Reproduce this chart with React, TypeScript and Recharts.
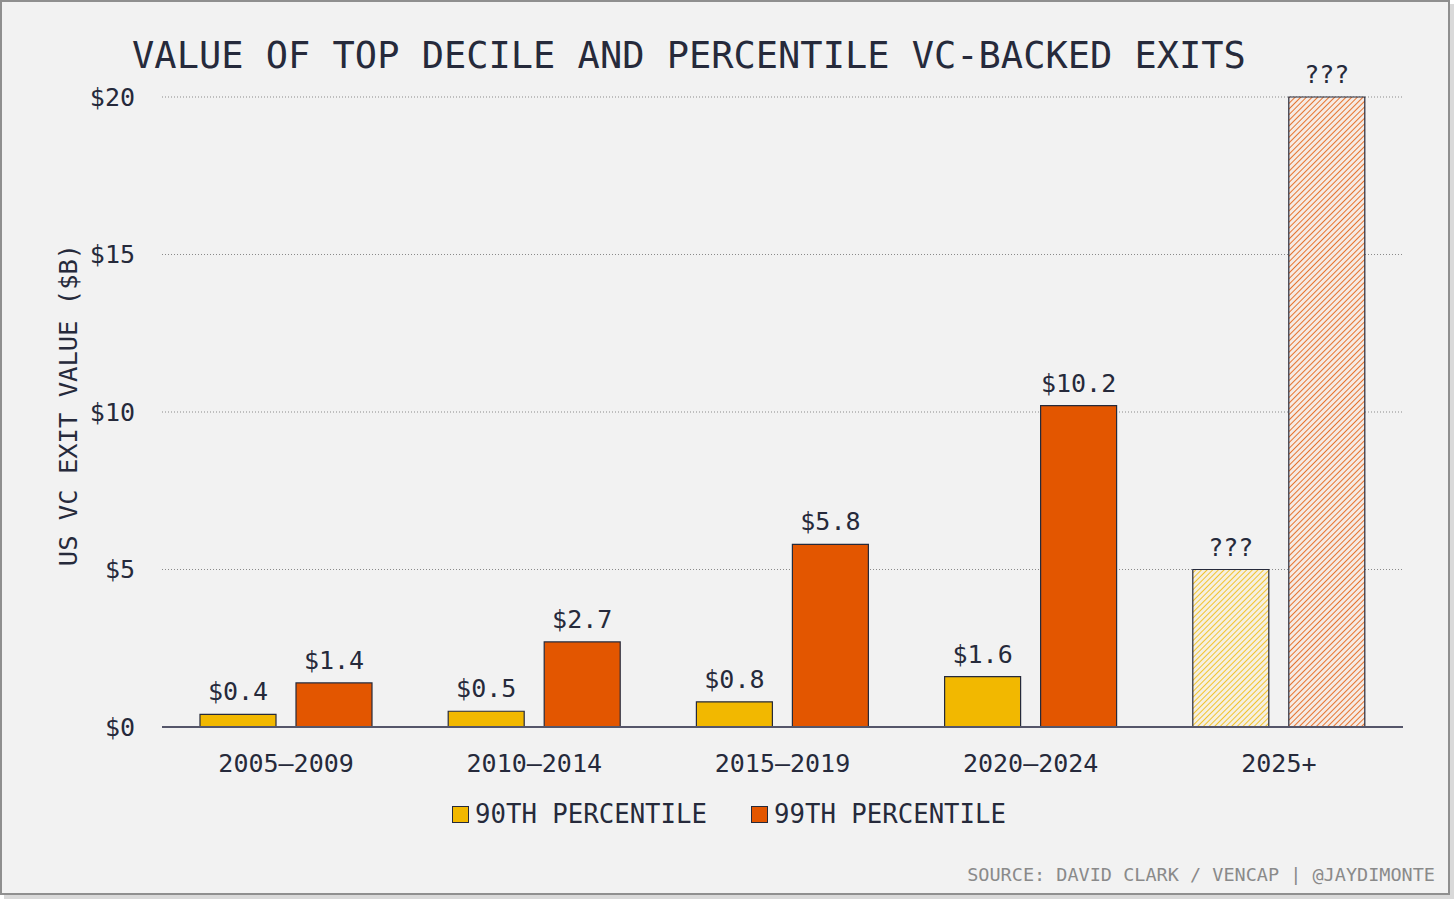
import { BarChart, Bar, XAxis, YAxis, CartesianGrid, LabelList, Cell } from 'recharts';

const categories = ['2005–2009', '2010–2014', '2015–2019', '2020–2024', '2025+'];
const p90 = [0.4, 0.5, 0.8, 1.6, 5];
const p99 = [1.4, 2.7, 5.8, 10.2, 20];
const projected = [false, false, false, false, true];
const yTicks = [0, 5, 10, 15, 20];

const FONT = "'DejaVu Sans Mono', 'Liberation Mono', monospace";
const INK = '#262a3b';
const YELLOW = '#f2b800';
const ORANGE = '#e35600';

const data = categories.map((c, i) => ({ period: c, p90: p90[i], p99: p99[i] }));

const renderLabel = (props: any) => {
    const { x, y, width, value, index } = props;
    const text = projected[index] ? '???' : `$${value}`;
    return (
        <text x={x + width / 2} y={y - 14} textAnchor="middle" fontSize={25} fontFamily={FONT} fill={INK}>
            {text}
        </text>
    );
};

function Swatch({ color, label }: { color: string; label: string }) {
    return (
        <div style={{ display: 'flex', alignItems: 'center', marginRight: 44 }}>
            <div style={{ width: 15, height: 15, background: color, border: `1px solid ${INK}`, marginRight: 6 }} />
            <span>{label}</span>
        </div>
    );
}

export default function App() {
    return (
        <div style={{ position: 'absolute', left: 0, top: 0, width: 1456, height: 904, fontFamily: FONT, color: INK }}>
            <div
                style={{
                    position: 'absolute', left: 0, top: 0, width: 1450, height: 895, boxSizing: 'border-box',
                    border: '2px solid #8f8f8f', background: '#f2f2f2', boxShadow: '4px 4px 0 #d9d9d9',
                }}
            />
            <div style={{ position: 'absolute', left: 0, width: 1378, top: 33, textAlign: 'center', fontSize: 37, lineHeight: '46px' }}>
                VALUE OF TOP DECILE AND PERCENTILE VC-BACKED EXITS
            </div>
            <div
                style={{
                    position: 'absolute', left: 68, top: 405, fontSize: 25.5, whiteSpace: 'nowrap',
                    transform: 'translate(-50%, -50%) rotate(-90deg)',
                }}
            >
                US VC EXIT VALUE ($B)
            </div>
            <div style={{ position: 'absolute', top: 0, left: 0 }}>
                <BarChart width={1456} height={904} data={data} margin={{ top: 97, right: 53, bottom: 127, left: 62 }} barGap={20}>
                    <defs>
                        <pattern id="hatchYellow" patternUnits="userSpaceOnUse" width={4} height={4} patternTransform="rotate(45)">
                            <rect width={4} height={4} fill="#f5f0e2" />
                            <line x1={0} y1={0} x2={0} y2={4} stroke={YELLOW} strokeWidth={1.6} />
                        </pattern>
                        <pattern id="hatchOrange" patternUnits="userSpaceOnUse" width={4} height={4} patternTransform="rotate(45)">
                            <rect width={4} height={4} fill="#f5ebe5" />
                            <line x1={0} y1={0} x2={0} y2={4} stroke={ORANGE} strokeWidth={1.6} />
                        </pattern>
                    </defs>
                    <CartesianGrid vertical={false} stroke="#8a8a8a" strokeDasharray="1 2" />
                    <XAxis
                        dataKey="period"
                        height={50}
                        tickLine={false}
                        tickSize={0}
                        tickMargin={27}
                        axisLine={{ stroke: '#55566a', strokeWidth: 2 }}
                        tick={{ fontSize: 25, fontFamily: FONT, fill: INK }}
                    />
                    <YAxis
                        width={100}
                        domain={[0, 20]}
                        ticks={yTicks}
                        tickFormatter={(v) => `$${v}`}
                        axisLine={false}
                        tickLine={false}
                        tickSize={0}
                        tickMargin={27}
                        tick={{ fontSize: 25, fontFamily: FONT, fill: INK }}
                    />
                    <Bar dataKey="p90" barSize={76} stroke={INK} strokeWidth={1.2} isAnimationActive={false}>
                        {data.map((_, i) => (
                            <Cell key={i} fill={projected[i] ? 'url(#hatchYellow)' : YELLOW} />
                        ))}
                        <LabelList dataKey="p90" content={renderLabel} />
                    </Bar>
                    <Bar dataKey="p99" barSize={76} stroke={INK} strokeWidth={1.2} isAnimationActive={false}>
                        {data.map((_, i) => (
                            <Cell key={i} fill={projected[i] ? 'url(#hatchOrange)' : ORANGE} />
                        ))}
                        <LabelList dataKey="p99" content={renderLabel} />
                    </Bar>
                </BarChart>
            </div>
            <div style={{ position: 'absolute', left: 452, top: 798, display: 'flex', fontSize: 25.7, lineHeight: '32px' }}>
                <Swatch color={YELLOW} label="90TH PERCENTILE" />
                <Swatch color={ORANGE} label="99TH PERCENTILE" />
            </div>
            <div style={{ position: 'absolute', right: 21, top: 864, fontSize: 18.5, color: '#8a8a8a', whiteSpace: 'nowrap' }}>
                SOURCE: DAVID CLARK / VENCAP | @JAYDIMONTE
            </div>
        </div>
    );
}
